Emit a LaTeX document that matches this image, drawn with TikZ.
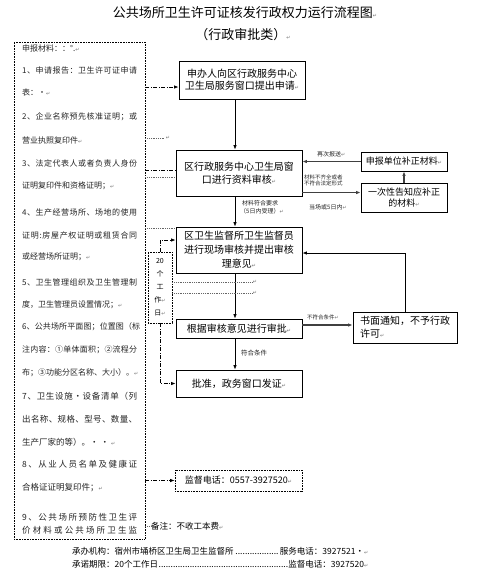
\documentclass[tikz,border=0pt]{standalone}
\usepackage{fontspec}
\setmainfont{Noto Sans CJK SC}
\newfontfamily\dv{DejaVu Sans}
\usetikzlibrary{arrows.meta}
\newcommand\pmark{{\dv\fontsize{5}{5}\selectfont\color{black!55}↵}}
\ExplSyntaxOn
\NewDocumentCommand\spreadtxt{mm}{\makebox[#1][s]{\tl_map_inline:nn{#2}{##1\hfil}\unskip}}
\ExplSyntaxOff
\begin{document}
\begin{tikzpicture}[x=1pt,y=-1pt,
  fbox/.style={draw=black, line width=0.8pt, inner sep=0pt, align=center},
  arr/.style={-{Latex[length=4.5pt,width=3.5pt]}, line width=0.8pt},
  garr/.style={-{Latex[length=4.5pt,width=3.5pt]}, line width=1.1pt, draw=black!75},
  dd/.style={line width=0.7pt, dash pattern=on 4pt off 1.5pt on 1pt off 1.5pt},
  dotl/.style={draw=black!60, line width=0.6pt, dash pattern=on 0.6pt off 1.2pt},
  lt/.style={anchor=west, inner sep=0pt, font=\fontsize{8}{8}\selectfont, text=black!85},
  lt2/.style={lt, font=\fontsize{8.5}{8.5}\selectfont},
  sm/.style={anchor=west, inner sep=0pt, font=\fontsize{5.5}{6}\selectfont, text=black!85}]
\useasboundingbox (0,0) rectangle (478,574);
\fill[white] (0,0) rectangle (478,574);

% titles
\node[inner sep=0pt, font=\fontsize{13}{13}\selectfont] (title) at (245,13) {公共场所卫生许可证核发行政权力运行流程图\pmark};
\node[inner sep=0pt, font=\fontsize{13}{13}\selectfont] (subtitle) at (243,35) {（行政审批类）\pmark};

% left materials box
\node[draw, line width=0.7pt, dash pattern=on 0.7pt off 0.9pt, minimum width=131pt, minimum height=497pt, inner sep=0pt] (L) at (79.5,290.5) {};
\node[lt] (l0) at (22,48) {申报材料：：°.\pmark};
\node[lt] (l1) at (22,70) {\spreadtxt{115pt}{1、申请报告：卫生许可证申请}};
\node[lt] (l2) at (22,92) {表：·\pmark};
\node[lt] (l3) at (22,117) {\spreadtxt{115pt}{2、企业名称预先核准证明；或}};
\node[lt] (l4) at (22,140) {营业执照复印件\pmark};
\node[lt] (l5) at (22,163) {\spreadtxt{115pt}{3、法定代表人或者负责人身份}};
\node[lt] (l6) at (22,186) {证明复印件和资格证明；\pmark};
\node[lt] (l7) at (22,212) {\spreadtxt{115pt}{4、生产经营场所、场地的使用}};
\node[lt] (l8) at (22,235) {\spreadtxt{115pt}{证明:房屋产权证明或租赁合同}};
\node[lt] (l9) at (22,257) {或经营场所证明；\pmark};
\node[lt] (l10) at (22,282) {\spreadtxt{115pt}{5、卫生管理组织及卫生管理制}};
\node[lt] (l11) at (22,305) {度，卫生管理员设置情况；\pmark};
\node[lt] (l12) at (22,327) {\spreadtxt{118pt}{6、公共场所平面图；位置图（标}};
\node[lt] (l13) at (22,350) {\spreadtxt{115pt}{注内容：①单体面积；②流程分}};
\node[lt] (l14) at (22,373) {布；③功能分区名称、大小）。\pmark};
\node[lt2] (l15) at (22,396) {\spreadtxt{115pt}{7、卫生设施·设备清单（列}};
\node[lt2] (l16) at (22,419) {\spreadtxt{115pt}{出名称、规格、型号、数量、}};
\node[lt2] (l17) at (22,442) {生产厂家的等）。· · \pmark};
\node[lt2] (l18) at (22,464) {\spreadtxt{115pt}{8、从业人员名单及健康证}};
\node[lt2] (l19) at (22,488) {合格证证明复印件；\pmark};
\node[lt2] (l20) at (22,517) {\spreadtxt{115pt}{9、公共场所预防性卫生评}};
\node[lt2] (l21) at (22,530) {\spreadtxt{115pt}{价材料或公共场所卫生监}};

% main flow boxes
\node[fbox, minimum width=126pt, minimum height=38pt, font=\fontsize{10}{12}\selectfont] (A) at (242,80) {申办人向区行政服务中心\\卫生局服务窗口提出申请\pmark};
\node[fbox, minimum width=126pt, minimum height=46pt, font=\fontsize{10}{13}\selectfont] (B) at (239,173) {区行政服务中心卫生局窗\\口进行资料审核\pmark};
\node[fbox, minimum width=126pt, minimum height=46pt, font=\fontsize{10}{14}\selectfont] (C) at (239,250) {区卫生监督所卫生监督员\\进行现场审核并提出审核\\理意见\pmark};
\node[fbox, minimum width=126pt, minimum height=19pt, font=\fontsize{10}{12}\selectfont] (D) at (239,328.5) {根据审核意见进行审批\pmark};
\node[fbox, minimum width=126pt, minimum height=27pt, font=\fontsize{10}{12}\selectfont] (E) at (239,383.5) {批准，政务窗口发证\pmark};

% right boxes
\node[fbox, minimum width=86pt, minimum height=19pt, font=\fontsize{9}{11}\selectfont] (R1) at (404,161.5) {申报单位补正材料\pmark};
\node[fbox, minimum width=86pt, minimum height=29pt, font=\fontsize{9}{11}\selectfont] (R2) at (404,197.5) {一次性告知应补正\\的材料\pmark};
\node[fbox, minimum width=104pt, minimum height=31pt, align=left, font=\fontsize{10}{13}\selectfont] (F) at (405,327.5) {书面通知，不予行政\\许可\pmark};

% phone box and 20-day box
\node[draw, line width=0.7pt, dash pattern=on 0.7pt off 0.9pt, minimum width=127pt, minimum height=21pt, inner sep=0pt, font=\fontsize{9}{11}\selectfont] (M) at (238.5,480.5) {监督电话：0557-3927520\pmark};

% vertical flow arrows
\coordinate (colx) at (235,0);
\draw[arr] (A.south -| colx) -- (B.north -| colx);
\draw[arr] (B.south -| colx) -- (C.north -| colx);
\draw[arr] (C.south -| colx) -- (D.north -| colx);
\draw[arr] (D.south -| colx) -- (E.north -| colx);
\node[sm, font=\fontsize{6}{6}\selectfont] (lbA) at (242,203) {材料符合要求};
\node[sm, font=\fontsize{6}{6}\selectfont] (lbB) at (240,211) {（5日内受理）\pmark};
\node[sm, font=\fontsize{6.5}{7}\selectfont] (lbC) at (241,353) {符合条件};

% right side connectors
\draw[garr] (R1.west) -- (R1.west -| B.east);
\draw[garr] ([yshift=5pt]R2.west -| B.east) -- ([yshift=5pt]R2.west);
\draw[garr] (R2.north) -- (R1.south);
\node[sm, font=\fontsize{6}{6}\selectfont] (lbD) at (317,154) {再次报送\pmark};
\node[sm] (lbE) at (304,177) {材料不齐全或者};
\node[sm] (lbF) at (304,183) {不符合法定形式};
\node[sm, font=\fontsize{6}{6}\selectfont] (lbG) at (309,207) {当场或5日内\pmark};
\draw[garr] ([yshift=3.5pt]D.east) coordinate (dn) -- (dn -| F.west);
\node[sm] (lbH) at (307,317) {不符合条件\pmark};
\draw[arr] (F.north) |- ([yshift=-3pt]C.east);

% 20 working days bracket
\node[draw, line width=0.6pt, dash pattern=on 0.7pt off 0.9pt, fill=white, minimum width=24pt, minimum height=71pt, inner sep=0pt, align=center, font=\fontsize{7}{13}\selectfont] (T) at (160,287.5) {20\\个\\工\\作\pmark\\日\pmark};
\draw[dd,arr] (T.north) |- ([yshift=10pt]C.west);
\draw[dd,arr] (T.south) |- (E.west);

% dash-dot links from materials box
\coordinate (ya) at (0,87);
\coordinate (yb) at (0,170);
\draw[dd,arr] (L.east |- ya) -- (A.west |- ya);
\draw[dd] (L.east |- yb) -- (B.west |- yb);
\draw[dd,arr] (L.east |- M.west) -- (M.west);

% stray dotted lines
\coordinate (y1) at (0,138);
\coordinate (y2) at (0,177);
\coordinate (y3) at (0,228);
\coordinate (y4) at (0,282);
\coordinate (y5) at (0,293);
\coordinate (xe1) at (165,0);
\coordinate (xe2) at (252,0);
\draw[dotl] (L.east |- y1) -- (xe1 |- y1) node[right, inner sep=0.5pt] (p1) {\pmark};
\draw[dotl] (L.east |- y2) -- (B.west |- y2);
\draw[dotl] (L.east |- y3) -- (C.west |- y3);
\draw[dotl] (T.east |- y4) -- (xe2 |- y4) node[right, inner sep=0.5pt] (p2) {\pmark};
\draw[dotl] (T.east |- y5) -- (xe2 |- y5) node[right, inner sep=0.5pt] (p3) {\pmark};

% notes
\coordinate (yn) at (0,526);
\draw[dotl] (L.east |- yn) -- (151,526) coordinate (nn);
\node[anchor=west, inner sep=0pt, font=\fontsize{8.5}{9}\selectfont] (note) at (nn) {备注：不收工本费\pmark};
\node[anchor=west, inner sep=0pt, font=\fontsize{8.5}{9}\selectfont] (f1) at (72,551) {\makebox[296pt][s]{承办机构：宿州市埇桥区卫生局卫生监督所\leaders\hbox to 2.4pt{\hss.\hss}\hfill 服务电话：3927521·\pmark}};
\node[anchor=west, inner sep=0pt, font=\fontsize{8.5}{9}\selectfont] (f2) at (72,564) {\makebox[296pt][s]{承诺期限：20个工作日\leaders\hbox to 2.4pt{\hss.\hss}\hfill 监督电话：3927520\pmark}};
\end{tikzpicture}
\end{document}
